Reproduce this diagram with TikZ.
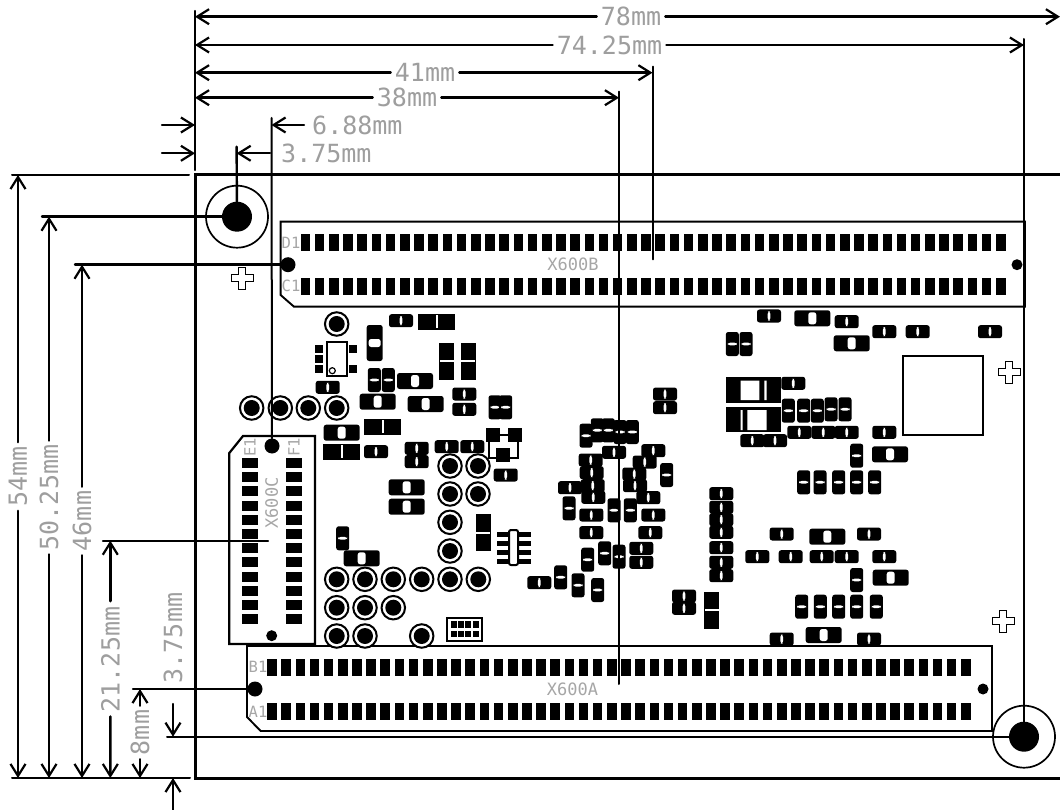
\documentclass[tikz,border=0pt]{standalone}
\usepackage{fontspec}
\setmonofont{DejaVu Sans Mono}
\usepackage{xcolor}
\usetikzlibrary{arrows.meta,shapes.geometric,positioning}

\begin{document}
\begin{tikzpicture}[x=1pt, y=-1pt,
    dimline/.style={line width=2.4pt, line cap=round},
    thinline/.style={dimline, line width=2pt},
    dimarrow/.style={dimline, -{Straight Barb[length=12pt,width=15pt,line width=2.2pt]}},
    dimtext/.style={text=black!38, font=\ttfamily\fontsize{25}{25}\selectfont, inner sep=4pt},
    dimvert/.style={dimtext, rotate=90},
    reftext/.style={text=black!35, font=\ttfamily\fontsize{15.5}{16}\selectfont, inner sep=0pt},
    nametext/.style={reftext, font=\ttfamily\fontsize{17}{17}\selectfont},
    outline/.style={draw, line width=1.9pt, fill=white},
    padblock/.style={rectangle, fill=black, inner sep=0pt, minimum width=9.6pt, minimum height=17pt},
    padside/.style={rectangle, fill=black, inner sep=0pt, minimum width=16pt, minimum height=10pt},
    dotbig/.style={circle, fill=black, inner sep=0pt, minimum size=15pt},
    dotsmall/.style={circle, fill=black, inner sep=0pt, minimum size=11pt},
    hole/.style={circle, draw, line width=1.7pt, fill=white, inner sep=0pt, minimum size=62pt,
        path picture={\fill[black] (path picture bounding box.center) circle (15pt);}},
    via/.style={circle, draw, line width=2pt, fill=white, inner sep=0pt, minimum size=23.5pt,
        path picture={\fill[black] (path picture bounding box.center) circle (8pt);}},
    slit/.style 2 args={path picture={\fill[white]
        ([xshift=-#1/2,yshift=-#2/2]path picture bounding box.center) rectangle
        ([xshift=#1/2,yshift=#2/2]path picture bounding box.center);}},
    part/.style={rectangle, fill=black, inner sep=0pt, rounded corners=2.5pt},
    caph/.style={part, minimum width=24pt, minimum height=13pt, slit={2.7pt}{9pt}},
    capv/.style={part, minimum width=13pt, minimum height=24pt, slit={9pt}{2.7pt}},
    bigh/.style={part, minimum width=36pt, minimum height=16pt, slit={8pt}{12pt}},
    bigv/.style={part, minimum width=16pt, minimum height=36pt, slit={12pt}{8pt}},
    pairh/.style={part, rounded corners=0pt, minimum width=37pt, minimum height=16pt, slit={1.6pt}{13pt}},
    pairv/.style={part, rounded corners=0pt, minimum width=15pt, minimum height=37pt, slit={14pt}{1.6pt}}]

    \useasboundingbox (0,0) rectangle (1060,810);
    \fill[white] (0,0) rectangle (1060,810);

    % board edge
    \draw[line width=3pt] (1060,175) -- (195,175) -- (195,778) -- (1060,778);

    % connector outlines
    \draw[outline] (280.6,221.7) -- (1025,221.7) -- (1025,306.7) -- (294,306.7) -- (280.6,295) -- cycle;
    \draw[outline] (247,646) -- (992,646) -- (992,731) -- (260.7,731) -- (247,717) -- cycle;
    \draw[outline, line width=2.2pt] (243,436) -- (315,436) -- (315,644) -- (229.3,644) -- (229.3,453) -- cycle;

    % connector pads
    \foreach \i in {0,...,49} {
        \node[padblock] (d\i) at ({305.5+14.19*\i},242.7) {};
        \node[padblock] (c\i) at ({305.5+14.19*\i},286.3) {};
        \node[padblock] (b\i) at ({272+14.16*\i},667.5) {};
        \node[padblock] (a\i) at ({272+14.16*\i},711) {};
    }
    \foreach \i in {0,...,11} {
        \node[padside] (e\i) at (249.7,{463+14.2*\i}) {};
        \node[padside] (f\i) at (293.7,{463+14.2*\i}) {};
    }

    \node[reftext] (labelD) at (291,242.7) {D1};
    \node[reftext] (labelC) at (291,286) {C1};
    \node[reftext] (labelB) at (258,667) {B1};
    \node[reftext] (labelA) at (258,712) {A1};
    \node[reftext, rotate=90] (labelE) at (250,447) {E1};
    \node[reftext, rotate=90] (labelF) at (294,447) {F1};
    \node[nametext] (nameB) at (573,264.3) {X600B};
    \node[nametext] (nameA) at (572.5,689) {X600A};
    \node[nametext, rotate=90] (nameC) at (271.7,503) {X600C};

    % mounting holes and reference dots
    \node[hole] (holeA) at (237,216.7) {};
    \node[hole] (holeB) at (1024,736.7) {};
    \node[dotbig] (dotB) at (288,264.7) {};
    \node[dotsmall] (dotBr) at (1017,264.7) {};
    \node[dotbig] (dotA) at (255,689) {};
    \node[dotsmall] (dotAr) at (983,689) {};
    \node[dotbig] (dotC) at (272,446) {};
    \node[dotsmall] (dotCb) at (271.7,635.7) {};

    % vias
    \foreach \px/\py [count=\i] in {336.7/324, 251.7/408, 280.3/408, 308.3/408, 336.7/408,
        450/466, 478/466, 450/494, 478/494, 450/522.3, 450/551,
        336.7/579.3, 365/579.3, 393.3/579.3, 421.7/579.3, 450/579.3, 478.3/579.3,
        336.7/607.7, 365/607.7, 393.3/607.7, 336.7/636, 365/636, 421.7/636}
        \node[via] (via\i) at (\px,\py) {};

    % small parts, lying
    \foreach \px/\py [count=\i] in {401/320.7, 327.7/387.3, 464.3/394, 464.3/409.3, 376/451.7,
        416.7/448.3, 416.7/461.7, 446.7/446.7, 472.3/446.7, 505.7/475,
        665/394, 665/407.7, 614/452.3, 653.3/450.7, 644.7/462, 590.7/460, 591.7/472.7,
        634.3/474, 635/485.7, 592.7/485.7, 570/487.7, 593.3/497.3, 648.3/497.7,
        591.3/515, 653.3/515, 591.3/532.7, 650.3/532.7, 641.3/548.3, 641.3/562.3, 539.3/582.7,
        721.3/493.7, 721.3/507.3, 721.3/519.7, 721.3/532.3, 721.3/547.7, 721.3/562.3, 721.3/575.7,
        684/596, 684/608.3,
        769/316, 846.7/321.7, 884.3/331.7, 917.7/331.7, 990/331.7, 793.3/383.3,
        799.3/432.3, 823.3/432.3, 846.7/432.3, 752.3/440.7, 775/440.7, 884.3/432.3,
        781.7/534, 869/534, 757.3/556.7, 790.7/556.7, 821.7/556.7, 846.7/556.7, 884.3/556.7,
        781.7/639, 869/639}
        \node[caph] (ch\i) at (\px,\py) {};

    % small parts, standing
    \foreach \px/\py [count=\i] in {374.3/380, 388.3/380, 495/407.3, 505.7/407.3, 342.7/538.3,
        586/435.7, 597.3/430.3, 608.3/430.3, 620/432, 632.3/432, 666.7/475,
        569/508.3, 614/510.3, 630.3/510.3, 587.7/559.7, 604.7/553.3, 619/556.7,
        560.7/577.3, 578/585.3, 597.7/590,
        732.3/344, 746/344, 788.3/410.7, 803.7/410.7, 817.3/410.7, 831/409.3, 845/409.3,
        856.7/455.7, 803.7/482.3, 820/482.3, 838.7/482.3, 856.7/482.3, 874.7/482.3,
        856.7/580, 801.7/606.7, 820.3/606.7, 838.7/606.7, 856.7/606.7, 876.3/606.7}
        \node[capv] (cv\i) at (\px,\py) {};

    % larger parts
    \foreach \px/\py [count=\i] in {415/381, 377.7/401.7, 425.7/404, 341.7/432.7, 406.7/487.3, 406.7/506.7,
        361.7/558.3, 812.3/318.3, 851.7/343.3, 890/454.3, 827.3/536.7, 890.7/577.7, 823.7/635}
        \node[bigh] (bh\i) at (\px,\py) {};
    \node[bigv] (bv1) at (374.7,343) {};
    \foreach \px/\py [count=\i] in {436.7/321.7, 382.7/426.7, 341.7/451.7}
        \node[pairh] (ph\i) at (\px,\py) {};
    \foreach \px/\py [count=\i] in {446.7/361, 468.3/361, 483.3/532.7, 711.7/610}
        \node[pairv] (pv\i) at (\px,\py) {};

    % power parts
    \fill (726,377.3) rectangle (781,402.7);
    \fill[white] (740.7,380.7) rectangle (759.3,400) (764.3,380.7) rectangle (766.7,400);
    \fill (726,406.7) rectangle (781,432.3);
    \fill[white] (747.3,410) rectangle (766.7,430) (740.7,410) rectangle (742.7,430);

    % crystal with its pads
    \foreach \px/\py in {319.3/349.3, 319.3/359.3, 319.3/369.3, 353.3/349.3, 353.3/369.3}
        \fill (\px-4,\py-4) rectangle (\px+4,\py+4);
    \draw[line width=1.7pt] (326.7,342.3) rectangle (347.3,376);
    \draw[line width=1.2pt] (332.3,370.7) circle (3);

    % transistor
    \draw[line width=1.7pt] (489,435) rectangle (518,458);
    \foreach \px/\py in {493.3/435, 515/435, 503.3/455}
        \fill (\px-7,\py-7) rectangle (\px+7,\py+7);

    % small chip
    \foreach \py in {534.6,543.5,552,561}
        \fill (497.3,\py-2.5) rectangle (531,\py+2.5);
    \draw[line width=2pt, fill=white, rounded corners=2pt] (509,530) rectangle (518,565);

    % flat connector
    \draw[line width=1.7pt] (447.3,617.7) rectangle (482.3,641);
    \foreach \px in {454,461.2,468.4,475.6}
        \foreach \py in {624.3,634}
            \fill (\px-3,\py-3.3) rectangle (\px+3,\py+3.3);

    % big chip
    \draw[line width=2pt] (903.3,356) rectangle (982.7,435);

    % fiducials
    \foreach \px/\py in {242/278.3, 1009/372, 1003/621}
        \draw[line width=1pt, fill=white] (\px-3.5,\py-11) -- (\px+3.5,\py-11) -- (\px+3.5,\py-3.5)
            -- (\px+11,\py-3.5) -- (\px+11,\py+3.5) -- (\px+3.5,\py+3.5) -- (\px+3.5,\py+11)
            -- (\px-3.5,\py+11) -- (\px-3.5,\py+3.5) -- (\px-11,\py+3.5) -- (\px-11,\py-3.5)
            -- (\px-3.5,\py-3.5) -- cycle;

    % dimension ends
    \coordinate (xzeroTop) at (195,11);
    \coordinate (xzeroEnd) at (195,170);
    \coordinate (a78) at (195,16.7);
    \coordinate (b78) at (1060,16.7);
    \coordinate (a74) at (195,45);
    \coordinate (b74) at (1024,45);
    \coordinate (a41) at (195,72.7);
    \coordinate (b41) at (652.5,72.7);
    \coordinate (a38) at (195,97.7);
    \coordinate (b38) at (619,97.7);
    \coordinate (top74) at (1024,39);
    \coordinate (top41) at (652.5,66.7);
    \coordinate (end41) at (652.5,259.3);
    \coordinate (top38) at (619,91.7);
    \coordinate (end38) at (619,684);
    \coordinate (top68) at (271.5,118);
    \coordinate (top37) at (236.6,146.7);
    \coordinate (in68) at (162,125);
    \coordinate (edge68) at (195,125);
    \coordinate (tip68) at (271.5,125);
    \coordinate (in37) at (162,153.3);
    \coordinate (edge37) at (195,153.3);
    \coordinate (tip37) at (236.6,153.3);
    \coordinate (from37) at (270,153.3);
    \coordinate (from68) at (304,125);

    \coordinate (ytopA) at (12,175);
    \coordinate (ytopB) at (189,175);
    \coordinate (ybotA) at (12,778);
    \coordinate (ybotB) at (190,778);
    \coordinate (hole50) at (42,216.7);
    \coordinate (dot46) at (75,264.7);
    \coordinate (ref21) at (103,540.7);
    \coordinate (end21) at (268,540.7);
    \coordinate (ref8) at (133,689);
    \coordinate (ref3) at (167,736.7);
    \coordinate (low3) at (173,810);
    \coordinate (high3) at (173,704);
    \coordinate (stem21) at (110.3,601);
    \coordinate (tip21) at (110.3,540.7);

    % extension lines
    \draw[dimline] (xzeroTop) -- (xzeroEnd);
    \draw[thinline] (top74) -- (holeB.center);
    \draw[thinline] (top41) -- (end41);
    \draw[thinline] (top38) -- (end38);
    \draw[thinline] (top68) -- (dotC);
    \draw[dimline] (top37) -- (holeA.center);
    \draw[thinline] (ytopA) -- (ytopB);
    \draw[thinline] (ybotA) -- (ybotB);
    \draw[dimline] (hole50) -- (holeA.center);
    \draw[dimline] (dot46) -- (dotB);
    \draw[dimline] (ref21) -- (end21);
    \draw[dimline] (ref8) -- (dotA);
    \draw[thinline] (ref3) -- (holeB.center);

    % horizontal measures
    \node[dimtext] (t78) at (631,16.7) {78mm};
    \node[dimtext] (t74) at (609.5,45) {74.25mm};
    \node[dimtext] (t41) at (425,72.7) {41mm};
    \node[dimtext] (t38) at (407,97.7) {38mm};
    \node[dimtext, anchor=west] (t68) at (308,125) {6.88mm};
    \node[dimtext, anchor=west] (t37) at (277,153.3) {3.75mm};
    \draw[dimarrow] (t78) -- (a78);
    \draw[dimarrow] (t78) -- (b78);
    \draw[dimarrow] (t74) -- (a74);
    \draw[dimarrow] (t74) -- (b74);
    \draw[dimarrow] (t41) -- (a41);
    \draw[dimarrow] (t41) -- (b41);
    \draw[dimarrow] (t38) -- (a38);
    \draw[dimarrow] (t38) -- (b38);
    \draw[dimarrow] (in68) -- (edge68);
    \draw[dimarrow] (from68) -- (tip68);
    \draw[dimarrow] (in37) -- (edge37);
    \draw[dimarrow] (from37) -- (tip37);

    % vertical measures
    \coordinate (up54) at (18,175);
    \coordinate (down54) at (18,778);
    \coordinate (up50) at (49,216.7);
    \coordinate (down50) at (49,778);
    \coordinate (up46) at (82,264.7);
    \coordinate (down46) at (82,778);
    \coordinate (down21) at (110.3,778);
    \coordinate (up8) at (140,689);
    \coordinate (down8) at (140,778);
    \coordinate (tip3) at (173,736.7);
    \coordinate (base3) at (173,778);
    \node[dimvert] (t54) at (18,476.5) {54mm};
    \node[dimvert] (t50) at (49,497.5) {50.25mm};
    \node[dimvert] (t46) at (82,521) {46mm};
    \node[dimvert] (t21) at (110.5,659.5) {21.25mm};
    \node[dimvert] (t8) at (140,732.5) {8mm};
    \node[dimvert] (t3) at (173,638) {3.75mm};
    \draw[dimarrow] (t54) -- (up54);
    \draw[dimarrow] (t54) -- (down54);
    \draw[dimarrow] (t50) -- (up50);
    \draw[dimarrow] (t50) -- (down50);
    \draw[dimarrow] (t46) -- (up46);
    \draw[dimarrow] (t46) -- (down46);
    \draw[dimarrow, line width=3pt] (stem21) -- (tip21);
    \draw[dimarrow] (t21) -- (down21);
    \draw[dimarrow] (t8) -- (up8);
    \draw[dimarrow] (t8) -- (down8);
    \draw[dimarrow] (high3) -- (tip3);
    \draw[dimarrow] (low3) -- (base3);

\end{tikzpicture}
\end{document}
